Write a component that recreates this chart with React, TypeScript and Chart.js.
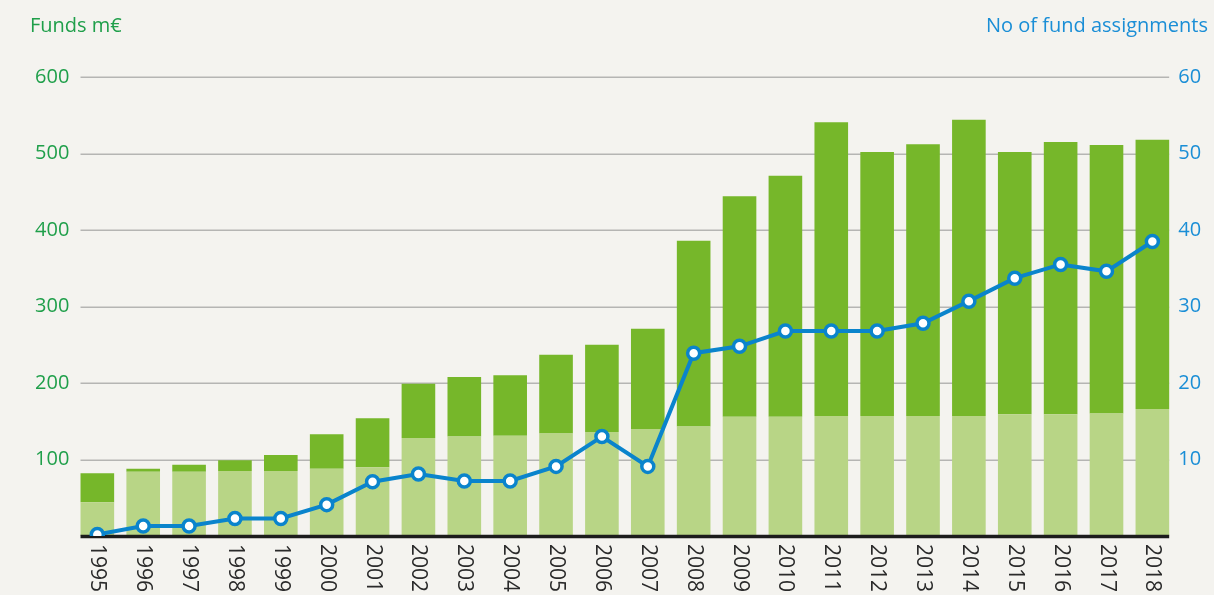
import React, { useEffect, useRef } from "react";
import { Chart, registerables } from "chart.js";

Chart.register(...registerables);

const years = ["1995","1996","1997","1998","1999","2000","2001","2002","2003","2004","2005","2006","2007","2008","2009","2010","2011","2012","2013","2014","2015","2016","2017","2018"];
const lightFunds = [44, 84, 84, 85, 85, 88, 90, 128, 130, 131, 134, 136, 140, 143, 156, 156, 157, 157, 157, 157, 159, 159, 160, 166];
const darkFunds = [38, 4, 9, 14, 21, 45, 64, 71, 78, 79, 103, 114, 131, 243, 288, 315, 384, 345, 355, 387, 343, 356, 351, 352];
const assignments = [0.2, 1.3, 1.3, 2.3, 2.3, 4.1, 7.1, 8.1, 7.2, 7.2, 9.1, 13, 9.1, 23.9, 24.8, 26.8, 26.8, 26.8, 27.8, 30.7, 33.7, 35.5, 34.6, 38.5];
const leftTicks = [100, 200, 300, 400, 500, 600];
const leftTitle = "Funds m€";
const rightTitle = "No of fund assignments";

const GREEN_TEXT = "#1f9f4a";
const BLUE_TEXT = "#1a8ed6";
const FONT = "'Open Sans', sans-serif";

const customPlugin = {
  id: "custom",
  beforeDatasetsDraw(chart: any) {
    const ctx = chart.ctx;
    const meta = chart.getDatasetMeta(0);
    const first = meta.data[0];
    const last = meta.data[meta.data.length - 1];
    const x0 = first.x - first.width / 2;
    const x1 = last.x + last.width / 2;
    const y = chart.scales.y;
    ctx.save();
    ctx.strokeStyle = "#b5b5b3";
    ctx.lineWidth = 1.5;
    for (const t of leftTicks) {
      const py = Math.round(y.getPixelForValue(t)) + 0.25;
      ctx.beginPath();
      ctx.moveTo(x0, py);
      ctx.lineTo(x1, py);
      ctx.stroke();
    }
    ctx.restore();
  },
  beforeDatasetDraw(chart: any, args: any) {
    if (args.index !== 2) return;
    const ctx = chart.ctx;
    const meta = chart.getDatasetMeta(0);
    const first = meta.data[0];
    const last = meta.data[meta.data.length - 1];
    const x0 = first.x - first.width / 2;
    const x1 = last.x + last.width / 2;
    const py = chart.scales.y.getPixelForValue(0);
    ctx.save();
    ctx.strokeStyle = "#1c1c1c";
    ctx.lineWidth = 3.5;
    ctx.beginPath();
    ctx.moveTo(x0, py + 0.5);
    ctx.lineTo(x1, py + 0.5);
    ctx.stroke();
    ctx.restore();
  },
  afterDraw(chart: any) {
    const ctx = chart.ctx;
    const xs = chart.scales.x;
    ctx.save();
    ctx.fillStyle = "#2a2a2a";
    ctx.font = `21px ${FONT}`;
    ctx.textAlign = "left";
    ctx.textBaseline = "middle";
    years.forEach((label, i) => {
      const px = xs.getPixelForValue(i);
      ctx.save();
      ctx.translate(px, 544);
      ctx.rotate(Math.PI / 2);
      ctx.fillText(label, 0, 0);
      ctx.restore();
    });
    ctx.font = `20px ${FONT}`;
    ctx.textBaseline = "alphabetic";
    ctx.fillStyle = GREEN_TEXT;
    ctx.textAlign = "left";
    ctx.fillText(leftTitle, 30, 32);
    ctx.fillStyle = BLUE_TEXT;
    ctx.textAlign = "right";
    ctx.fillText(rightTitle, 1208, 32);
    ctx.restore();
  },
};

export default function App() {
  const ref = useRef<HTMLCanvasElement>(null);
  useEffect(() => {
    document.body.style.margin = "0";
    const chart = new Chart(ref.current as HTMLCanvasElement, {
      type: "bar",
      data: {
        labels: years,
        datasets: [
          {
            type: "bar",
            data: lightFunds,
            backgroundColor: "#b8d586",
            yAxisID: "y",
            order: 1,
            barPercentage: 0.733,
            categoryPercentage: 1,
          },
          {
            type: "bar",
            data: darkFunds,
            backgroundColor: "#76b72a",
            yAxisID: "y",
            order: 2,
            barPercentage: 0.733,
            categoryPercentage: 1,
          },
          {
            type: "line",
            data: assignments,
            yAxisID: "y1",
            order: 0,
            borderColor: "#0a84cc",
            borderWidth: 4,
            pointBackgroundColor: "#ffffff",
            pointBorderColor: "#0a84cc",
            pointBorderWidth: 3.5,
            pointRadius: 6,
            tension: 0,
          } as any,
        ],
      },
      options: {
        responsive: false,
        animation: false,
        layout: { padding: { top: 77, bottom: 59, left: 0, right: 0 } },
        plugins: { legend: { display: false }, tooltip: { enabled: false } },
        scales: {
          x: {
            stacked: true,
            display: false,
          },
          y: {
            stacked: true,
            position: "left",
            min: 0,
            max: 600,
            grid: { display: false, drawTicks: false },
            border: { display: false },
            ticks: {
              stepSize: 100,
              padding: 5,
              color: GREEN_TEXT,
              font: { family: FONT, size: 20 },
              callback: (v: any) => (v === 0 ? "" : String(v)),
            },
            afterFit: (s: any) => {
              s.width = 74.4;
            },
          },
          y1: {
            position: "right",
            min: 0,
            max: 60,
            grid: { display: false, drawTicks: false },
            border: { display: false },
            ticks: {
              stepSize: 10,
              padding: 3,
              color: BLUE_TEXT,
              font: { family: FONT, size: 20 },
              callback: (v: any) => (v === 0 ? "" : String(v)),
            },
            afterFit: (s: any) => {
              s.width = 38.7;
            },
          },
        },
      },
      plugins: [customPlugin],
    });
    return () => chart.destroy();
  }, []);
  return (
    <div style={{ width: 1214, height: 595, background: "#f4f3ef" }}>
      <canvas ref={ref} width={1214} height={595} style={{ display: "block" }} />
    </div>
  );
}
